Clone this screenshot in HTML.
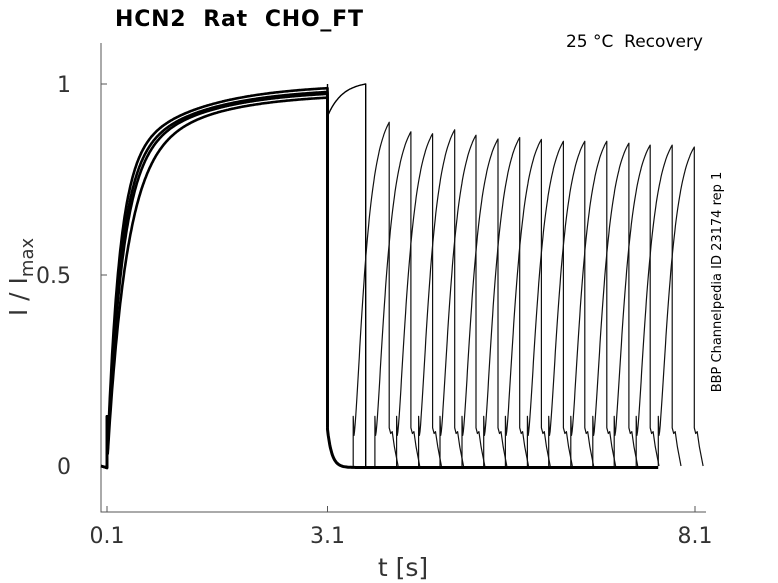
<!DOCTYPE html>
<html><head><meta charset="utf-8"><style>
body{margin:0;background:#fff}
svg{display:block;font-family:"DejaVu Sans","Liberation Sans",sans-serif}
text{white-space:pre}
</style></head><body>
<svg id="chart" width="778" height="583" viewBox="0 0 778 583" xmlns="http://www.w3.org/2000/svg">
<text x="115" y="26" font-size="22" font-weight="bold" fill="#000" xml:space="preserve" textLength="248" lengthAdjust="spacing">HCN2  Rat  CHO_FT</text>
<text x="703" y="47" font-size="17" text-anchor="end" fill="#000" xml:space="preserve">25 °C  Recovery</text>
<text transform="translate(721,282) rotate(-90)" font-size="13" text-anchor="middle" fill="#000">BBP Channelpedia ID 23174 rep 1</text>
<text transform="translate(27,277) rotate(-90)" font-size="25" text-anchor="middle" fill="#333">I / I<tspan font-size="18" dy="6">max</tspan></text>
<text x="403" y="576" font-size="25" text-anchor="middle" fill="#333">t [s]</text>
<g id="axes"></g>
<g id="traces"></g>
</svg>
<script>
const xTicks=[0.1,3.1,8.1];
const yTicks=[0,0.5,1];
const actScale=[1.0,0.99,0.985,0.975];
const actTau=[0.16,0.18,0.2,0.25];
const pulseEnds=[3.94,4.235,4.53,4.83,5.12,5.42,5.715,6.01,6.31,6.6,6.9,7.2,7.49,7.79,8.09];
const pulsePeaks=[0.90,0.875,0.87,0.88,0.866,0.856,0.86,0.855,0.85,0.85,0.85,0.845,0.84,0.84,0.835];
const firstSweepEnd=3.62;
const firstSweepLevels=[0.92,1.0];

const X=t=>107+(t-0.1)*73.5;
const Y=v=>466-v*382;
const NS='http://www.w3.org/2000/svg';
const axes=document.getElementById('axes');
const tr=document.getElementById('traces');
function mk(tag,attrs,parent){const e=document.createElementNS(NS,tag);for(const k in attrs)e.setAttribute(k,attrs[k]);parent.appendChild(e);return e;}

let ax=mk('path',{d:'M101,43V512H706',fill:'none',stroke:'#555','stroke-width':1},axes);


xTicks.forEach(t=>{
  const l=mk('line',{x1:X(t),x2:X(t),y1:512,y2:506,stroke:'#555'},axes);
  
  
  const tx=mk('text',{x:X(t),y:543,'font-size':22,'text-anchor':'middle',fill:'#333'},axes);
  tx.textContent=t;
  
  
});
yTicks.forEach(v=>{
  const l=mk('line',{x1:101,x2:107,y1:Y(v),y2:Y(v),stroke:'#555'},axes);
  
  
  const tx=mk('text',{x:71,y:Y(v)+8,'font-size':22,'text-anchor':'end',fill:'#333'},axes);
  tx.textContent=v;
  
  
});

function path(pts,w,name,col){
  const d='M'+pts.filter(p=>isFinite(p[1])).map(p=>X(p[0]).toFixed(1)+','+Y(p[1]).toFixed(1)).join('L');
  const e=mk('path',{d:d,fill:'none',stroke:col||'#000','stroke-width':w,'stroke-linejoin':'round'},tr);
  
  
}
// activation traces
actScale.forEach((A,i)=>{
  const pts=[[0.02,0.0],[0.1,-0.005],[0.1,0.13],[0.11,0.07]];
  for(let t=0.11;t<=3.1;t+=0.01){const dt=t-0.1;pts.push([t,A*(0.78*(1-Math.exp(-dt/actTau[i]))+0.22*(1-Math.exp(-dt/1.0)))]);}
  pts.push([3.1,0.1]);
  path(pts,2.6,'activation-trace');
});
// first sweep (no gap)
{const pts=[[3.1,1.0],[3.1,0.1],[3.11,firstSweepLevels[0]]];
 for(let t=3.11;t<=firstSweepEnd;t+=0.01){const f=(t-3.11)/(firstSweepEnd-3.11);pts.push([t,firstSweepLevels[0]+(firstSweepLevels[1]-firstSweepLevels[0])*(1-Math.exp(-f*2.5))/(1-Math.exp(-2.5))]);}
 pts.push([firstSweepEnd,0.0]);
 path(pts,1.4,'sweep-0');}
// baseline after deactivation
{const lastStart=pulseEnds[pulseEnds.length-1]-0.49;
 const pts=[[3.1,0.1]];
 for(let t=3.1;t<=lastStart;t+=0.01)pts.push([t,0.1*Math.exp(-(t-3.1)/0.06)-0.004]);
 path(pts,3,'deactivation-baseline');}
// recovery pulses
pulseEnds.forEach((te,i)=>{
  const P=pulsePeaks[i];const ts=te-0.49;
  const pts=[[ts,0],[ts,0.13],[ts+0.01,0.08]];
  const norm=Math.pow(1-Math.exp(-0.48/0.15),1.5);
  for(let t=ts+0.01;t<=te;t+=0.008){const dt=Math.max(0,t-ts-0.01);pts.push([t,0.08+(P-0.08)*Math.pow(Math.max(0,1-Math.exp(-dt/0.15)),1.5)/norm]);}
  pts.push([te,P],[te,0.1],[te+0.02,0.085],[te+0.04,0.09],[te+0.07,0.05],[te+0.12,0.0]);
  path(pts,1.2,'recovery-pulse-'+(i+1),'#111');
});
</script>
</body></html>
